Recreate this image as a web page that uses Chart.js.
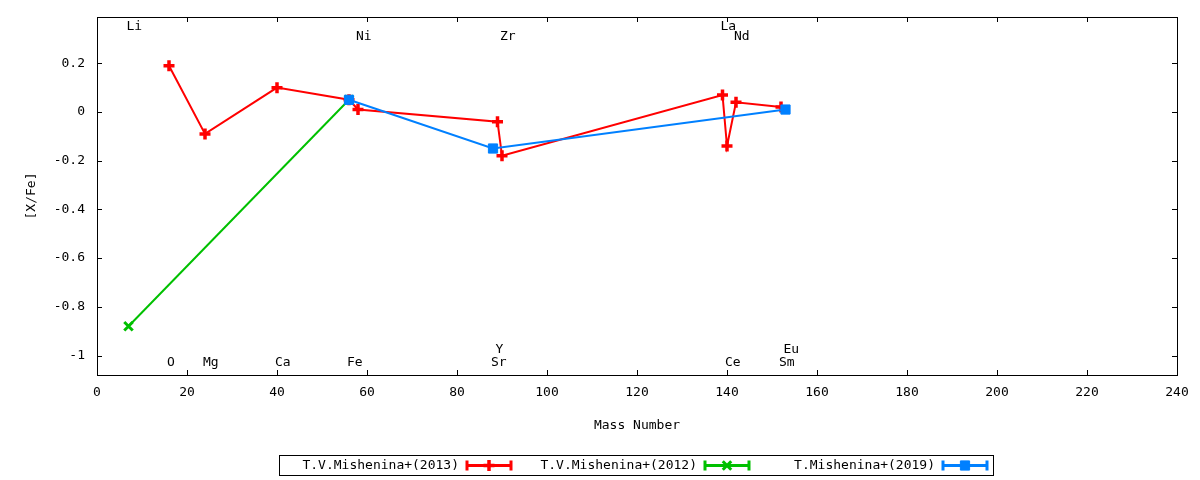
<!DOCTYPE html>
<html>
<head>
<meta charset="utf-8">
<script src="https://cdn.jsdelivr.net/npm/chart.js@4"></script>
<style>
  body { margin: 0; background: #fff; }
</style>
</head>
<body>
<canvas id="abundChart" width="1200" height="480"></canvas>
<script>
// T.V.Mishenina+(2013)
const mass2013 = [16, 24, 40, 56, 58, 89, 90, 139, 140, 142, 152];
const xfe2013 = [0.19, -0.09, 0.10, 0.05, 0.01, -0.04, -0.18, 0.07, -0.14, 0.04, 0.02];

// T.V.Mishenina+(2012)
const mass2012 = [7, 56];
const xfe2012 = [-0.88, 0.05];

// T.Mishenina+(2019)
const mass2019 = [56, 88, 153];
const xfe2019 = [0.05, -0.15, 0.01];

const seriesNames = ["T.V.Mishenina+(2013)", "T.V.Mishenina+(2012)", "T.Mishenina+(2019)"];

// element labels (mass number, [X/Fe] height of the label)
const elemNames = ["Li", "O", "Mg", "Ca", "Fe", "Ni", "Sr", "Y", "Zr", "La", "Ce", "Nd", "Sm", "Eu"];
const elemMass = [7, 16, 24, 40, 56, 58, 88, 89, 90, 139, 140, 142, 152, 153];
const elemLevel = [0.35, -1.03, -1.03, -1.03, -1.03, 0.31, -1.03, -0.975, 0.31, 0.35, -1.03, 0.31, -1.03, -0.975];

const xTicks = [0, 20, 40, 60, 80, 100, 120, 140, 160, 180, 200, 220, 240];
const yTicks = [-1, -0.8, -0.6, -0.4, -0.2, 0, 0.2];

const FONT = "'DejaVu Sans Mono', monospace";

function toPoints(xs, ys) {
  return xs.map((x, i) => ({ x: x, y: ys[i] }));
}

// border with inward ticks on all four sides
const framePlugin = {
  id: "frame",
  beforeDatasetsDraw(chart) {
    const { ctx, chartArea: a, scales } = chart;
    const len = 5;
    ctx.save();
    ctx.strokeStyle = "#000";
    ctx.lineWidth = 1;
    ctx.beginPath();
    xTicks.forEach(v => {
      const px = Math.round(scales.x.getPixelForValue(v)) + 0.5;
      ctx.moveTo(px, a.bottom); ctx.lineTo(px, a.bottom - len);
      ctx.moveTo(px, a.top); ctx.lineTo(px, a.top + len);
    });
    yTicks.forEach(v => {
      const py = Math.round(scales.y.getPixelForValue(v)) + 0.5;
      ctx.moveTo(a.left, py); ctx.lineTo(a.left + len, py);
      ctx.moveTo(a.right, py); ctx.lineTo(a.right - len, py);
    });
    ctx.stroke();
    ctx.strokeRect(a.left + 0.5, a.top + 0.5, a.right - a.left, a.bottom - a.top);
    ctx.restore();
  }
};

// element names written inside the plot
const elemPlugin = {
  id: "elems",
  afterDatasetsDraw(chart) {
    const { ctx, scales } = chart;
    ctx.save();
    ctx.font = "13px " + FONT;
    ctx.fillStyle = "#000";
    ctx.textAlign = "left";
    ctx.textBaseline = "middle";
    elemNames.forEach((name, i) => {
      const px = scales.x.getPixelForValue(elemMass[i]) - 2;
      const py = scales.y.getPixelForValue(elemLevel[i]);
      ctx.fillText(name, px, py);
    });
    ctx.restore();
  }
};

// gnuplot-like key at the bottom
const keyPlugin = {
  id: "key",
  afterDraw(chart) {
    const { ctx } = chart;
    const left = 279, top = 455, colW = 238, h = 20;
    const n = chart.data.datasets.length;
    ctx.save();
    ctx.strokeStyle = "#000";
    ctx.lineWidth = 1;
    ctx.strokeRect(left + 0.5, top + 0.5, colW * n, h);
    ctx.font = "13px " + FONT;
    ctx.textAlign = "right";
    ctx.textBaseline = "middle";
    const cy = top + h / 2 + 0.5;
    chart.data.datasets.forEach((ds, i) => {
      const x0 = left + colW * i;
      ctx.fillStyle = "#000";
      ctx.fillText(ds.label, x0 + 180, cy);
      const sx = x0 + 188, ex = x0 + 232;
      ctx.strokeStyle = ds.borderColor;
      ctx.lineWidth = 3;
      ctx.beginPath();
      ctx.moveTo(sx, cy); ctx.lineTo(ex, cy);
      ctx.moveTo(sx, cy - 5); ctx.lineTo(sx, cy + 5);
      ctx.moveTo(ex, cy - 5); ctx.lineTo(ex, cy + 5);
      ctx.stroke();
      ctx.fillStyle = ds.pointBackgroundColor;
      ctx.strokeStyle = ds.pointBorderColor;
      ctx.lineWidth = ds.pointBorderWidth;
      Chart.helpers.drawPoint(ctx, {
        pointStyle: ds.pointStyle,
        radius: ds.pointRadius,
        borderWidth: ds.pointBorderWidth,
        rotation: 0
      }, (sx + ex) / 2, cy);
    });
    ctx.restore();
  }
};

new Chart(document.getElementById("abundChart"), {
  type: "line",
  data: {
    datasets: [
      {
        label: seriesNames[0],
        data: toPoints(mass2013, xfe2013),
        borderColor: "#ff0000",
        borderWidth: 2,
        pointStyle: "cross",
        pointRadius: 5.5,
        pointBorderWidth: 3.5,
        pointBorderColor: "#ff0000",
        pointBackgroundColor: "#ff0000",
        order: 3
      },
      {
        label: seriesNames[1],
        data: toPoints(mass2012, xfe2012),
        borderColor: "#00c000",
        borderWidth: 2,
        pointStyle: "crossRot",
        pointRadius: 6,
        pointBorderWidth: 3,
        pointBorderColor: "#00c000",
        pointBackgroundColor: "#00c000",
        order: 2
      },
      {
        label: seriesNames[2],
        data: toPoints(mass2019, xfe2019),
        borderColor: "#0080ff",
        borderWidth: 2,
        pointStyle: "rect",
        pointRadius: 6.5,
        pointBorderWidth: 1,
        pointBorderColor: "#0080ff",
        pointBackgroundColor: "#0080ff",
        order: 1
      }
    ]
  },
  options: {
    responsive: false,
    animation: false,
    devicePixelRatio: 1,
    layout: { padding: { left: 0, top: 17, right: 23, bottom: 0 } },
    plugins: {
      legend: { display: false },
      tooltip: { enabled: false }
    },
    scales: {
      x: {
        type: "linear",
        min: 0,
        max: 240,
        grid: { display: false, drawTicks: false },
        border: { display: false },
        afterBuildTicks: s => { s.ticks = xTicks.map(v => ({ value: v })); },
        afterFit: s => { s.height = 105; s.paddingLeft = 0; s.paddingRight = 0; },
        ticks: {
          padding: 10,
          color: "#000",
          font: { family: FONT, size: 13 },
          maxRotation: 0,
          callback: v => String(v)
        },
        title: {
          display: true,
          text: "Mass Number",
          color: "#000",
          font: { family: FONT, size: 13 },
          padding: { top: 0, bottom: 47 }
        }
      },
      y: {
        type: "linear",
        min: -1.08,
        max: 0.39,
        grid: { display: false, drawTicks: false },
        border: { display: false },
        afterBuildTicks: s => { s.ticks = yTicks.map(v => ({ value: v })); },
        afterFit: s => { s.width = 97; s.paddingTop = 0; s.paddingBottom = 0; },
        ticks: {
          padding: 12,
          color: "#000",
          font: { family: FONT, size: 13 },
          callback: v => String(Math.round(v * 10) / 10)
        },
        title: {
          display: true,
          text: "[X/Fe]",
          color: "#000",
          font: { family: FONT, size: 13 },
          padding: { top: 24, bottom: 0 }
        }
      }
    }
  },
  plugins: [framePlugin, elemPlugin, keyPlugin]
});
</script>
</body>
</html>
